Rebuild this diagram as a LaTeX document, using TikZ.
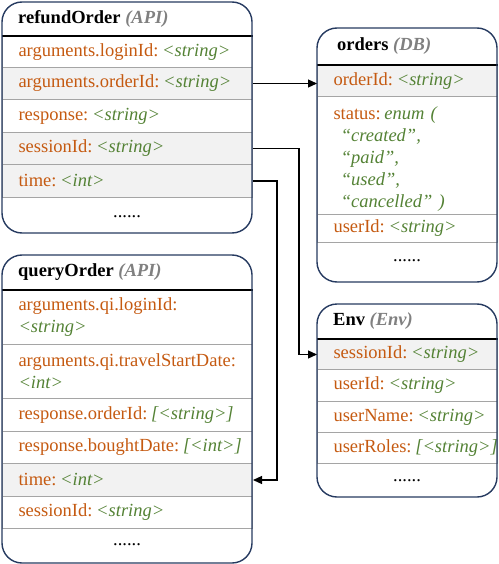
\documentclass[tikz,border=0pt]{standalone}
\usepackage{fontspec}
\setmainfont{Liberation Serif}
\usetikzlibrary{arrows.meta}

\definecolor{fieldname}{RGB}{197,90,17}
\definecolor{fieldtype}{RGB}{84,130,53}
\definecolor{kindgray}{RGB}{128,128,128}
\definecolor{boxborder}{RGB}{38,58,96}
\definecolor{rowgray}{RGB}{242,242,242}
\definecolor{sepgray}{RGB}{165,165,165}

\newcommand{\fieldfont}{\fontsize{18.5}{22}\selectfont}
\newcommand{\fld}[2]{\mbox{\textcolor{fieldname}{#1:}\hspace{0.2em}\textcolor{fieldtype}{\textit{#2}}}}
\newcommand{\ttl}[2]{\textbf{#1} \textcolor{kindgray}{\textbf{\textit{(#2)}}}}

\tikzset{
  field/.style={anchor=north west, draw=sepgray, line width=1pt, inner xsep=16pt, inner ysep=0pt, align=left, font=\fieldfont},
  wide/.style={text width=218pt},
  narrow/.style={text width=148pt},
  shaded/.style={fill=rowgray},
  title/.style={anchor=west, inner sep=0pt, font=\fieldfont},
  dots/.style={inner sep=0pt, font=\fieldfont},
  frame/.style={draw=boxborder, line width=1.4pt, rounded corners=20pt},
  headline/.style={line width=1.2pt},
  link/.style={line width=1.2pt, -{Triangle[length=9pt,width=8pt]}}
}

\begin{document}
\begin{tikzpicture}[x=1pt,y=-1pt]
\useasboundingbox (0,0) rectangle (498,564);

% refundOrder
\node[field, wide, minimum height=31pt] (ro1) at (2,36) {\fld{arguments.loginId}{<string>}};
\node[field, wide, shaded, minimum height=32pt] (ro2) at (2,67) {\fld{arguments.orderId}{<string>}};
\node[field, wide, minimum height=33pt] (ro3) at (2,99) {\fld{response}{<string>}};
\node[field, wide, shaded, minimum height=32pt] (ro4) at (2,132) {\fld{sessionId}{<string>}};
\node[field, wide, shaded, minimum height=33pt] (ro5) at (2,164) {\fld{time}{<int>}};
\node[dots] (rodots) at (127,217) {......};
\node[title] (rotitle) at (18,19) {\ttl{refundOrder}{API}};
\draw[headline] (ro1.north west) -- (ro1.north east);
\draw[frame] (2,2) rectangle (252,233);

% orders
\node[field, narrow, shaded, minimum height=31pt] (or1) at (317,65) {\fld{orderId}{<string>}};
\node[field, narrow, minimum height=118pt] (or2) at (317,96) {\rule{0pt}{20pt}\textcolor{fieldname}{status:}\hspace{0.2em}\color{fieldtype}\itshape enum (\\
  \hspace*{0.4em}“created”,\\
  \hspace*{0.4em}“paid”,\\
  \hspace*{0.4em}“used”,\\
  \hspace*{0.4em}“cancelled” )};
\node[field, narrow, minimum height=28pt] (or3) at (317,214) {\fld{userId}{<string>}};
\node[dots] (ordots) at (407,261) {......};
\node[title] (ortitle) at (337,46) {\ttl{orders}{DB}};
\draw[headline] (or1.north west) -- (or1.north east);
\draw[frame] (317,28) rectangle (497,282);

% Env
\node[field, narrow, shaded, minimum height=30pt] (en1) at (317,339) {\fld{sessionId}{<string>}};
\node[field, narrow, minimum height=32pt] (en2) at (317,369) {\fld{userId}{<string>}};
\node[field, narrow, minimum height=31pt] (en3) at (317,401) {\fld{userName}{<string>}};
\node[field, narrow, minimum height=31pt] (en4) at (317,432) {\fld{userRoles}{[<string>]}};
\node[dots] (endots) at (407,481) {......};
\node[title] (entitle) at (333,321) {\ttl{Env}{Env}};
\draw[headline] (en1.north west) -- (en1.north east);
\draw[frame] (317,304) rectangle (497,497);

% queryOrder
\node[field, wide, minimum height=54pt] (qo1) at (2,290) {\textcolor{fieldname}{arguments.qi.loginId:}\\\textcolor{fieldtype}{\textit{<string>}}};
\node[field, wide, minimum height=54pt] (qo2) at (2,344) {\textcolor{fieldname}{arguments.qi.travelStartDate:}\\\textcolor{fieldtype}{\textit{<int>}}};
\node[field, wide, minimum height=33pt] (qo3) at (2,398) {\fld{response.orderId}{[<string>]}};
\node[field, wide, minimum height=32pt] (qo4) at (2,431) {\fld{response.boughtDate}{[<int>]}};
\node[field, wide, shaded, minimum height=33pt] (qo5) at (2,463) {\fld{time}{<int>}};
\node[field, wide, minimum height=32pt] (qo6) at (2,496) {\fld{sessionId}{<string>}};
\node[dots] (qodots) at (127,545) {......};
\node[title] (qotitle) at (18,272) {\ttl{queryOrder}{API}};
\draw[headline] (qo1.north west) -- (qo1.north east);
\draw[frame] (2,255) rectangle (252,563);

% links
\draw[link] (ro2.east) -- (ro2.east -| or1.west);
\draw[link] (ro4.east) -- ++(46,0) |- (en1.west);
\draw[link] (ro5.east) -- ++(24,0) |- (qo5.east);

\end{tikzpicture}
\end{document}
